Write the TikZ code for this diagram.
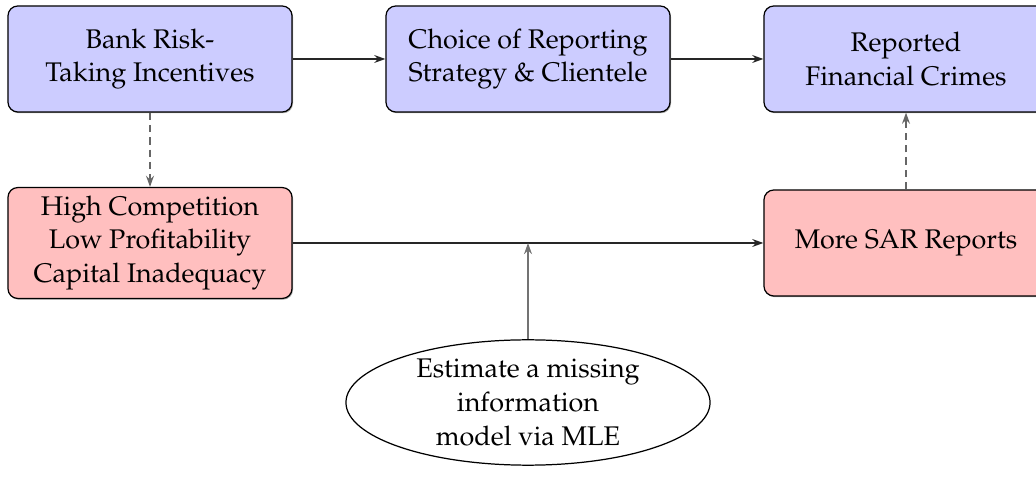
\documentclass[tikz,border=0pt]{standalone}
\usepackage[T1]{fontenc}
\usepackage{mathpazo}
\usetikzlibrary{arrows.meta,shapes.geometric,shadows}
\begin{document}
\begin{tikzpicture}[x=0.0142857cm,y=-0.0142857cm,
  font=\fontsize{10.95pt}{13.7pt}\selectfont,
  boxbase/.style={draw=black, rounded corners=4pt, minimum width=4.057cm, minimum height=1.514cm, align=center, line width=0.5pt,
    drop shadow={shadow xshift=0.4pt, shadow yshift=-0.5pt, opacity=0.35, fill=black}},
  bluebox/.style={boxbase, fill=blue!20},
  redbox/.style={boxbase, fill=red!25},
  ellbox/.style={draw=black, ellipse, minimum width=5.2cm, minimum height=1.79cm, inner sep=0pt, line width=0.5pt},
  elltext/.style={align=center, inner sep=0pt},
  tip/.style={-{Stealth[length=4.5pt,width=3.2pt]}},
  solidarrow/.style={tip, draw=black!85, line width=0.5pt},
  dasharrow/.style={tip, draw=black!60, line width=0.6pt, dash pattern=on 3pt off 2pt},
  grayline/.style={tip, draw=black!55, line width=0.8pt}]
\useasboundingbox (0,0) rectangle (1036,499);
\clip (0,0) rectangle (1036,499);
\node[bluebox] (bank) at (150,59) {Bank Risk-\\Taking Incentives};
\node[bluebox] (choice) at (528,59) {Choice of Reporting\\Strategy \& Clientele};
\node[bluebox] (crimes) at (906,59) {Reported\\Financial Crimes};
\node[redbox] (high) at (150,243) {High Competition\\Low Profitability\\Capital Inadequacy};
\node[redbox] (sar) at (906,243) {More SAR Reports};
\node[ellbox] (mle) at (528,402.5) {};
\node[elltext] (mletext) at (mle.center) {Estimate a missing\\information\\model via MLE};
\coordinate (meet) at (mle.north |- high.east);
\draw[solidarrow] (bank) -- (choice);
\draw[solidarrow] (choice) -- (crimes);
\draw[solidarrow] (high) -- (sar);
\draw[dasharrow] (bank) -- (high);
\draw[dasharrow] (sar) -- (crimes);
\draw[grayline] (mle.north) -- (meet);
\end{tikzpicture}
\end{document}
